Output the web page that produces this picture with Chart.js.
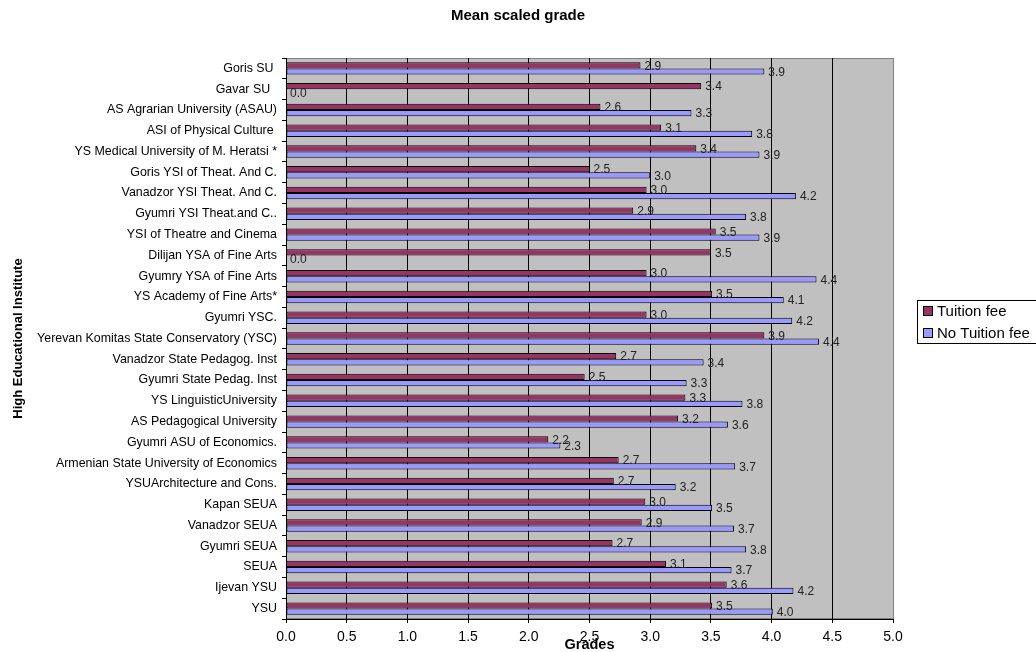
<!DOCTYPE html>
<html>
<head>
<meta charset="utf-8">
<title>Mean scaled grade</title>
<script src="https://cdn.jsdelivr.net/npm/chart.js@4.4.1/dist/chart.umd.min.js"></script>
<style>
  html, body { margin: 0; padding: 0; background: #fff; }
  #wrap { width: 1036px; height: 652px; }
</style>
</head>
<body>
<div id="wrap"><canvas id="gradeChart" width="1036" height="652"></canvas></div>
<script>
const institutes = [
    'Goris SU ',
    'Gavar SU  ',
    'AS Agrarian University (ASAU)',
    'ASI of Physical Culture ',
    'YS Medical University of M. Heratsi *',
    'Goris YSI of Theat. And C.',
    'Vanadzor YSI Theat. And C.',
    'Gyumri YSI Theat.and C..',
    'YSI of Theatre and Cinema',
    'Dilijan YSA of Fine Arts',
    'Gyumry YSA of Fine Arts',
    'YS Academy of Fine Arts*',
    'Gyumri YSC.',
    'Yerevan Komitas State Conservatory (YSC)',
    'Vanadzor State Pedagog. Inst',
    'Gyumri State Pedag. Inst',
    'YS LinguisticUniversity',
    'AS Pedagogical University',
    'Gyumri ASU of Economics.',
    'Armenian State University of Economics',
    'YSUArchitecture and Cons.',
    'Kapan SEUA',
    'Vanadzor SEUA',
    'Gyumri SEUA',
    'SEUA',
    'Ijevan YSU',
    'YSU'
];

const tuitionFee = [
    2.92, 3.42, 2.59, 3.09, 3.38, 2.50, 2.97, 2.86, 3.54, 3.50, 2.97, 3.51, 2.97, 3.94,
    2.72, 2.46, 3.29, 3.23, 2.16, 2.74, 2.70, 2.96, 2.93, 2.69, 3.13, 3.63, 3.51
];

const noTuitionFee = [
    3.94, 0.00, 3.34, 3.84, 3.90, 3.00, 4.20, 3.79, 3.90, 0.00, 4.37, 4.10, 4.17, 4.39,
    3.44, 3.30, 3.76, 3.64, 2.26, 3.70, 3.21, 3.51, 3.69, 3.79, 3.67, 4.18, 4.01
];

const gradeMin = 0;
const gradeMax = 5;
const gradeStep = 0.5;

const chartTitle = 'Mean scaled grade';
const FONT = '"Liberation Sans", Arial, sans-serif';

// grey plot area with a thin grey frame
const plotBackground = {
    id: 'plotBackground',
    beforeDraw(chart) {
        const { ctx, chartArea: a } = chart;
        ctx.save();
        ctx.fillStyle = '#C0C0C0';
        ctx.fillRect(a.left, a.top, a.right - a.left, a.bottom - a.top);
        ctx.strokeStyle = '#808080';
        ctx.lineWidth = 1;
        ctx.strokeRect(a.left + 0.5, a.top + 0.5, a.right - a.left, a.bottom - a.top - 1);
        ctx.restore();
    }
};

// value printed just past the end of every bar
const barValues = {
    id: 'barValues',
    afterDatasetsDraw(chart) {
        const { ctx } = chart;
        ctx.save();
        ctx.font = '12px ' + FONT;
        ctx.fillStyle = '#222';
        ctx.textAlign = 'left';
        ctx.textBaseline = 'middle';
        chart.data.datasets.forEach((ds, i) => {
            chart.getDatasetMeta(i).data.forEach((bar, j) => {
                ctx.fillText(ds.data[j].toFixed(1), bar.x + 4, bar.y + 1);
            });
        });
        ctx.restore();
    }
};

// title centred over the whole canvas, legend framed on the right
const chartDecor = {
    id: 'chartDecor',
    afterDraw(chart) {
        const { ctx } = chart;
        ctx.save();
        ctx.font = 'bold 15px ' + FONT;
        ctx.fillStyle = '#000';
        ctx.textAlign = 'center';
        ctx.textBaseline = 'middle';
        ctx.fillText(chartTitle, chart.width / 2, 16);

        const x = 917, y = 300, w = 130, h = 43;
        ctx.fillStyle = '#fff';
        ctx.fillRect(x, y, w, h);
        ctx.strokeStyle = '#000';
        ctx.lineWidth = 1;
        ctx.strokeRect(x + 0.5, y + 0.5, w, h);
        ctx.font = '15px ' + FONT;
        ctx.textAlign = 'left';
        chart.data.datasets.forEach((ds, i) => {
            const cy = y + 11 + i * 22;
            ctx.fillStyle = ds.backgroundColor;
            ctx.fillRect(923, cy - 5, 10, 10);
            ctx.strokeStyle = '#000';
            ctx.strokeRect(923.5, cy - 4.5, 9, 9);
            ctx.fillStyle = '#000';
            ctx.fillText(ds.label, 937, cy + 1);
        });
        ctx.restore();
    }
};

const ctx = document.getElementById('gradeChart').getContext('2d');
const gradeChart = new Chart(ctx, {
    type: 'bar',
    data: {
        labels: institutes,
        datasets: [{
            label: 'Tuition fee',
            data: tuitionFee,
            backgroundColor: '#993366',
            borderColor: '#000',
            borderWidth: 1,
            borderSkipped: false
        }, {
            label: 'No Tuition fee',
            data: noTuitionFee,
            backgroundColor: '#9999FF',
            borderColor: '#000',
            borderWidth: 1,
            borderSkipped: false
        }]
    },
    options: {
        indexAxis: 'y',
        responsive: false,
        animation: false,
        categoryPercentage: 0.6,
        barPercentage: 1,
        layout: {
            padding: { top: 58, right: 143, bottom: 0, left: 0 }
        },
        scales: {
            x: {
                min: gradeMin,
                max: gradeMax,
                afterFit(scale) { scale.height = 33; },
                ticks: {
                    stepSize: gradeStep,
                    color: '#000',
                    padding: 6,
                    font: { family: FONT, size: 14 },
                    callback: v => Number(v).toFixed(1)
                },
                grid: {
                    color: c => (c.tick && c.tick.value === gradeMax ? '#808080' : '#000'),
                    lineWidth: 1,
                    tickLength: 4,
                    tickColor: '#000'
                },
                border: { color: '#000' },
                title: {
                    display: true,
                    text: 'Grades',
                    color: '#000',
                    padding: 0,
                    font: { family: FONT, size: 14.5, weight: 'bold', lineHeight: 1 }
                }
            },
            y: {
                afterFit(scale) { scale.width = 286; },
                ticks: {
                    color: '#000',
                    padding: 5,
                    autoSkip: false,
                    font: { family: FONT, size: 12.4 }
                },
                grid: {
                    drawOnChartArea: false,
                    tickLength: 4,
                    color: '#000'
                },
                border: { color: '#000' },
                title: {
                    display: true,
                    text: 'High Educational Institute',
                    color: '#000',
                    padding: { top: 11, bottom: 0 },
                    font: { family: FONT, size: 13, weight: 'bold' }
                }
            }
        },
        plugins: {
            legend: { display: false },
            tooltip: { enabled: false },
            title: { display: false }
        }
    },
    plugins: [plotBackground, barValues, chartDecor]
});
</script>
</body>
</html>
